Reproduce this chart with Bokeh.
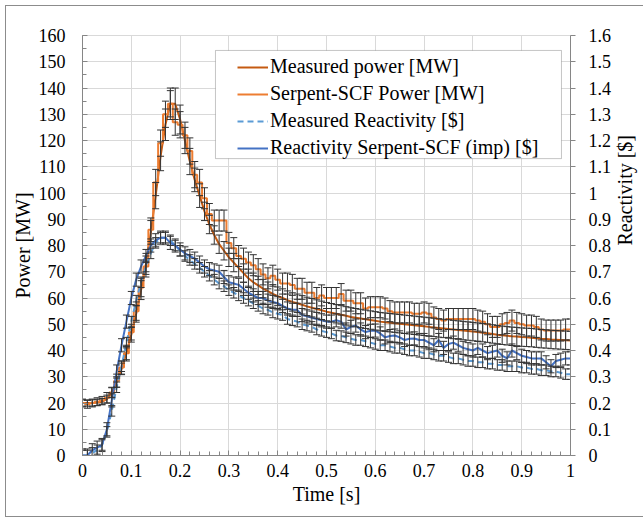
import math
from bokeh.plotting import figure
from bokeh.models import (Range1d, LinearAxis, SingleIntervalTicker, CustomJSTickFormatter,
                          ColumnDataSource, Whisker, TeeHead, Legend, LegendItem, BoxAnnotation)
from bokeh.embed import file_html
from bokeh.resources import INLINE

# ---------------- data ----------------
time_s = [i / 100 for i in range(101)]

measured_power = [
    20, 20, 20, 20.2, 20.5, 21.5, 24, 28, 33, 39,
    46, 54, 63, 73, 85, 99, 114, 126, 134, 134,
    128, 120, 112, 105, 99, 93, 88, 84, 80.5, 78,
    75.5, 73.5, 71.5, 69.5, 67.5, 66, 64.8, 63.6, 62.6, 61.6,
    60.7, 60, 59.2, 58.5, 58, 57.4, 56.8, 56.3, 55.8, 55.3,
    54.8, 54.4, 54, 53.6, 53.2, 52.8, 52.5, 52.2, 51.9, 51.6,
    51.3, 51, 50.8, 50.6, 50.4, 50.2, 50, 49.8, 49.6, 49.4,
    49.2, 49, 48.8, 48.6, 48.4, 48.2, 48, 47.8, 47.6, 47.4,
    47.2, 47, 46.8, 46.6, 46.3, 46, 45.8, 45.6, 45.4, 45.3,
    45.1, 45, 44.9, 44.7, 44.5, 44.4, 44.2, 44.1, 44, 43.9,
    43.8]
measured_power_err = ([1.2] * 5 + [1.5, 1.8, 2, 2.2, 2.5] + [2.8, 3.2, 3.6, 4, 4.5]
                      + [5, 5.5, 6, 6, 6] + [5.5, 5, 5, 4.5, 4.5] + [3.5] * 76)

serpent_power = [
    20, 19.5, 20, 20.5, 21, 22, 24, 28.5, 33.5, 39,
    47, 55, 64, 72, 86, 104, 119, 130, 134, 127,
    126, 122, 116, 107, 104, 98, 92, 89.5, 89.5, 89.5,
    81, 79, 76, 75, 73.5, 72.5, 71, 69, 67.5, 68.5,
    67, 65.5, 65.5, 65, 63.5, 63.5, 62, 62, 60, 61,
    60, 60, 60, 61.5, 59, 59, 58, 58, 56, 56.5,
    56.5, 56.5, 56, 55, 54.5, 54.5, 54.5, 54.5, 54, 54,
    54.5, 54, 52.6, 52, 51.4, 52, 52, 52, 52, 52,
    52, 51.4, 51, 50, 49, 49, 50, 50.5, 51.4, 50.5,
    50, 49.5, 49.5, 49, 48, 47.6, 47.6, 47.6, 47.6, 48,
    48]
serpent_power_err = ([1.5] * 5 + [2, 2, 2.5, 2.5, 3] + [3, 3.5, 3.5, 4, 4.5]
                     + [5] * 10 + [4] * 76)

measured_reactivity = [
    0.0, 0.0, 0.01, 0.02, 0.04, 0.09, 0.17, 0.26, 0.34, 0.43,
    0.51, 0.59, 0.66, 0.72, 0.77, 0.81, 0.83, 0.83, 0.82, 0.80,
    0.78, 0.76, 0.745, 0.73, 0.715, 0.70, 0.685, 0.67, 0.655, 0.645,
    0.63, 0.62, 0.61, 0.60, 0.59, 0.58, 0.57, 0.56, 0.555, 0.545,
    0.54, 0.535, 0.52, 0.515, 0.51, 0.50, 0.495, 0.49, 0.48, 0.475,
    0.47, 0.465, 0.457, 0.455, 0.45, 0.445, 0.44, 0.44, 0.435, 0.43,
    0.425, 0.42, 0.42, 0.415, 0.41, 0.41, 0.405, 0.40, 0.40, 0.395,
    0.39, 0.39, 0.385, 0.38, 0.38, 0.375, 0.37, 0.37, 0.365, 0.36,
    0.36, 0.355, 0.355, 0.35, 0.35, 0.345, 0.345, 0.34, 0.34, 0.34,
    0.335, 0.335, 0.33, 0.33, 0.325, 0.325, 0.32, 0.32, 0.315, 0.31,
    0.31]
measured_reactivity_err = [0.02] * 101

serpent_reactivity = [
    0.0, 0.0, 0.02, 0.03, 0.04, 0.10, 0.21, 0.32, 0.42, 0.51,
    0.60, 0.67, 0.72, 0.76, 0.80, 0.82, 0.83, 0.83, 0.81, 0.80,
    0.785, 0.77, 0.76, 0.75, 0.735, 0.72, 0.71, 0.705, 0.70, 0.68,
    0.66, 0.655, 0.65, 0.635, 0.62, 0.61, 0.60, 0.60, 0.59, 0.585,
    0.58, 0.57, 0.56, 0.555, 0.555, 0.535, 0.53, 0.525, 0.52, 0.515,
    0.51, 0.51, 0.515, 0.51, 0.48, 0.49, 0.495, 0.48, 0.47, 0.475,
    0.476, 0.465, 0.45, 0.455, 0.457, 0.45, 0.44, 0.445, 0.446, 0.44,
    0.44, 0.43, 0.42, 0.44, 0.41, 0.425, 0.43, 0.42, 0.41, 0.405,
    0.40, 0.41, 0.40, 0.39, 0.395, 0.40, 0.38, 0.37, 0.40, 0.39,
    0.38, 0.375, 0.37, 0.37, 0.37, 0.355, 0.34, 0.36, 0.365, 0.37,
    0.37]
serpent_reactivity_err = [0.025] * 101

labels = ["Measured power [MW]", "Serpent-SCF Power [MW]",
          "Measured Reactivity [$]", "Reactivity Serpent-SCF (imp) [$]"]
colors = ["#C55A11", "#ED7D31", "#5B9BD5", "#4472C4"]

# ---------------- figure ----------------
FONT = "Liberation Serif"

p = figure(frame_width=488, frame_height=420, output_backend="svg", toolbar_location=None,
           x_range=Range1d(0, 1), y_range=Range1d(0, 160),
           min_border_left=76, min_border_right=71, min_border_top=29, min_border_bottom=61)
p.extra_y_ranges = {"rho": Range1d(0, 1.6)}
p.margin = (5, 0, 0, 5)
p.styles = {"border": "1px solid #8c8c8c"}
p.outline_line_color = "#d9d9d9"
p.background_fill_color = "white"
p.border_fill_color = "white"

fmt = CustomJSTickFormatter(code="return String(Number(tick.toFixed(1)));")

# x axis
xt = SingleIntervalTicker(interval=0.1, num_minor_ticks=5)
xa = p.xaxis[0]
xa.ticker = xt
xa.formatter = fmt
xa.axis_label = "Time [s]"
xa.major_tick_in = 5
xa.major_tick_out = 0
xa.minor_tick_in = 4
xa.minor_tick_out = 0
xa.major_label_standoff = 8

# left axis
yt = SingleIntervalTicker(interval=10, num_minor_ticks=2)
ya = p.yaxis[0]
ya.ticker = yt
ya.axis_label = "Power [MW]"
ya.major_tick_in = 5
ya.major_tick_out = 0
ya.minor_tick_in = 4
ya.minor_tick_out = 0
ya.major_label_standoff = 17

# right axis
ra = LinearAxis(y_range_name="rho", ticker=SingleIntervalTicker(interval=0.1, num_minor_ticks=0),
                formatter=fmt, axis_label="Reactivity [$]")
ra.major_tick_in = 0
ra.major_tick_out = 5
ra.minor_tick_in = 0
ra.minor_tick_out = 0
ra.major_label_standoff = 13
try:
    ra.axis_label_orientation = math.pi / 2
except Exception:
    pass
p.add_layout(ra, "right")

for ax in [xa, ya, ra]:
    ax.axis_line_color = "#868686"
    ax.major_tick_line_color = "#868686"
    ax.minor_tick_line_color = "#868686"
    ax.major_label_text_font = FONT
    ax.major_label_text_font_size = "18px"
    ax.major_label_text_color = "#000000"
    ax.axis_label_text_font = FONT
    ax.axis_label_text_font_size = "20px"
    ax.axis_label_text_font_style = "normal"
    ax.axis_label_text_color = "#000000"
    ax.axis_label_standoff = 2
xa.axis_label_standoff = 3
ra.axis_label_standoff = 11

p.xgrid.ticker = xt
p.ygrid.ticker = yt
p.xgrid.grid_line_color = "#d9d9d9"
p.ygrid.grid_line_color = "#d9d9d9"

# ---------------- data renderers ----------------
src = ColumnDataSource(dict(
    t=time_s,
    mp=measured_power,
    mp_lo=[v - e for v, e in zip(measured_power, measured_power_err)],
    mp_hi=[v + e for v, e in zip(measured_power, measured_power_err)],
    sp=serpent_power,
    sp_lo=[v - e for v, e in zip(serpent_power, serpent_power_err)],
    sp_hi=[v + e for v, e in zip(serpent_power, serpent_power_err)],
    mr=measured_reactivity,
    mr_lo=[v - e for v, e in zip(measured_reactivity, measured_reactivity_err)],
    mr_hi=[v + e for v, e in zip(measured_reactivity, measured_reactivity_err)],
    sr=serpent_reactivity,
    sr_lo=[v - e for v, e in zip(serpent_reactivity, serpent_reactivity_err)],
    sr_hi=[v + e for v, e in zip(serpent_reactivity, serpent_reactivity_err)],
))

r_mp = p.line("t", "mp", source=src, line_color=colors[0], line_width=2)
r_sp = p.step("t", "sp", source=src, mode="center", line_color=colors[1], line_width=2)
r_mr = p.line("t", "mr", source=src, y_range_name="rho", line_color=colors[2],
              line_width=2, line_dash="6 4")
r_sr = p.line("t", "sr", source=src, y_range_name="rho", line_color=colors[3], line_width=2)

def whisk(lo, hi, rng="default"):
    w = Whisker(source=src, base="t", lower=lo, upper=hi, y_range_name=rng,
                line_color="#333333", line_width=1,
                lower_head=TeeHead(size=7, line_color="#333333", line_width=1),
                upper_head=TeeHead(size=7, line_color="#333333", line_width=1),
                level="glyph")
    p.add_layout(w)

whisk("mp_lo", "mp_hi")
whisk("sp_lo", "sp_hi")
whisk("mr_lo", "mr_hi", "rho")
whisk("sr_lo", "sr_hi", "rho")

# legend frame (wider horizontal padding than Bokeh's legend allows)
p.add_layout(BoxAnnotation(left=0.2725, right=0.9815, top=154.3, bottom=113.1,
                           fill_color="white", fill_alpha=1,
                           line_color="#404040", line_width=1))

legend = Legend(items=[LegendItem(label=labels[0], renderers=[r_mp]),
                       LegendItem(label=labels[1], renderers=[r_sp]),
                       LegendItem(label=labels[2], renderers=[r_mr]),
                       LegendItem(label=labels[3], renderers=[r_sr])],
                location=(155, 296))
legend.label_text_font = FONT
legend.label_text_font_size = "20px"
legend.label_text_color = "#000000"
legend.label_height = 20
legend.glyph_height = 20
legend.glyph_width = 31
legend.label_standoff = 2
legend.spacing = 4
legend.padding = 5
legend.margin = 0
legend.border_line_color = None
legend.background_fill_alpha = 0
p.add_layout(legend, "center")

open("out.html", "w").write(file_html(p, INLINE))
